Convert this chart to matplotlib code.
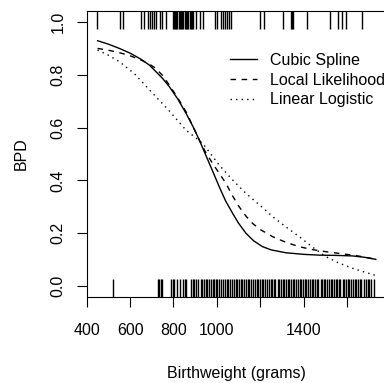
import matplotlib
matplotlib.use('Agg')
import matplotlib.pyplot as plt
import matplotlib.transforms as mtransforms

# fitted curves (birthweight in grams, estimated probability of BPD)
spline_w = [450, 500, 550, 600, 650, 690, 719, 750, 781, 820, 858, 890, 919, 940,
            965, 990, 1011, 1040, 1073, 1100, 1134, 1170, 1211, 1250, 1318, 1400,
            1472, 1550, 1626, 1680, 1733]
spline_p = [0.929, 0.916, 0.900, 0.882, 0.859, 0.836, 0.812, 0.786, 0.755, 0.708,
            0.654, 0.604, 0.553, 0.513, 0.465, 0.417, 0.376, 0.323, 0.275, 0.238,
            0.200, 0.171, 0.149, 0.137, 0.126, 0.120, 0.117, 0.116, 0.114, 0.109,
            0.101]

local_w = [450, 500, 550, 600, 650, 690, 719, 750, 781, 820, 858, 890, 927, 950,
           980, 1010, 1042, 1070, 1103, 1135, 1165, 1200, 1257, 1320, 1380, 1440,
           1503, 1560, 1626, 1680, 1733]
local_p = [0.900, 0.893, 0.884, 0.872, 0.856, 0.840, 0.824, 0.797, 0.761, 0.712,
           0.660, 0.604, 0.540, 0.504, 0.465, 0.428, 0.389, 0.345, 0.300, 0.264,
           0.237, 0.214, 0.187, 0.165, 0.149, 0.138, 0.130, 0.124, 0.117, 0.110,
           0.101]

logit_w = [450, 500, 550, 620, 704, 780, 858, 935, 1011, 1070, 1134, 1200, 1257,
           1320, 1380, 1440, 1503, 1560, 1626, 1680, 1733]
logit_p = [0.894, 0.874, 0.850, 0.804, 0.730, 0.664, 0.590, 0.540, 0.458, 0.404,
           0.351, 0.305, 0.263, 0.223, 0.187, 0.148, 0.111, 0.088, 0.067, 0.053,
           0.040]

# observed birthweights, BPD = 1
bpd_yes = [449, 553, 569, 649, 664, 683, 692, 701, 710, 719, 737, 747, 765,
           798, 803, 808, 813, 818, 824, 829, 835, 841, 846, 852, 858, 863,
           869, 875, 880, 886, 891, 906, 922, 935, 991, 1000, 1019, 1028,
           1037, 1046, 1055, 1064, 1199, 1217, 1303, 1340, 1345, 1352, 1414,
           1520, 1560, 1577, 1597, 1669]

# observed birthweights, BPD = 0
bpd_no = [520, 728, 735, 742, 748, 790, 797, 803, 815, 832, 845, 853, 860,
          880, 888, 897, 905, 912, 925, 932, 940, 948, 955, 965, 972, 980,
          988, 995, 1003, 1012, 1020, 1030, 1038, 1045, 1053, 1062, 1070,
          1080, 1088, 1095, 1103, 1110, 1118, 1125, 1135, 1142, 1150, 1158,
          1168, 1175, 1183, 1190, 1198, 1207, 1215, 1222, 1230, 1240, 1248,
          1255, 1262, 1270, 1280, 1288, 1295, 1303, 1310, 1318, 1328, 1335,
          1343, 1350, 1358, 1365, 1375, 1383, 1390, 1398, 1405, 1413, 1420,
          1430, 1438, 1445, 1452, 1460, 1468, 1478, 1485, 1493, 1500, 1508,
          1515, 1525, 1532, 1540, 1548, 1555, 1563, 1570, 1580, 1588, 1595,
          1603, 1610, 1618, 1628, 1635, 1642, 1650, 1658, 1665, 1680, 1688,
          1695, 1702, 1712, 1725]

x_ticks = [400, 600, 800, 1000, 1200, 1400, 1600]
x_labels = ['400', '600', '800', '1000', '', '1400', '']
y_ticks = [0.0, 0.2, 0.4, 0.6, 0.8, 1.0]
y_labels = ['0.0', '0.2', '0.4', '0.6', '0.8', '1.0']

plt.rcParams['font.family'] = ['Liberation Sans', 'DejaVu Sans']
plt.rcParams['font.size'] = 11.5

fig = plt.figure(figsize=(3.84, 3.83), dpi=100)
ax = fig.add_axes([0.2258, 0.2256, 0.780, 0.7446])

ax.plot(spline_w, spline_p, color='black', lw=1.0, label='Cubic Spline')
ax.plot(local_w, local_p, color='black', lw=1.0, dashes=(4, 4), label='Local Likelihood')
ax.plot(logit_w, logit_p, color='black', lw=1.0, dashes=(1, 3), label='Linear Logistic')

# rug marks along bottom and top
trans = mtransforms.blended_transform_factory(ax.transData, ax.transAxes)
ax.vlines(bpd_no, 0, 0.06, colors='black', lw=1.0, transform=trans)
ax.vlines(bpd_yes, 0.94, 1, colors='black', lw=1.0, transform=trans)

ax.set_xlim(400, 1781)
ax.set_ylim(-0.04, 1.04)
ax.set_xticks(x_ticks)
ax.set_xticklabels(x_labels)
ax.set_yticks(y_ticks)
ax.set_yticklabels(y_labels, rotation=90, va='center')
ax.tick_params(axis='x', length=7, width=0.8, pad=12)
ax.tick_params(axis='y', length=7, width=0.8, pad=8)

for s in ax.spines.values():
    s.set_linewidth(0.8)

ax.set_xlabel('Birthweight (grams)', labelpad=20)
ax.set_ylabel('BPD', labelpad=16)

ax.legend(loc='upper left', bbox_to_anchor=(0.478, 0.855), frameon=False,
          handlelength=1.7, handletextpad=0.8, labelspacing=0.3, borderpad=0,
          borderaxespad=0, fontsize=11.5)

fig.savefig('out.png', dpi=100)
